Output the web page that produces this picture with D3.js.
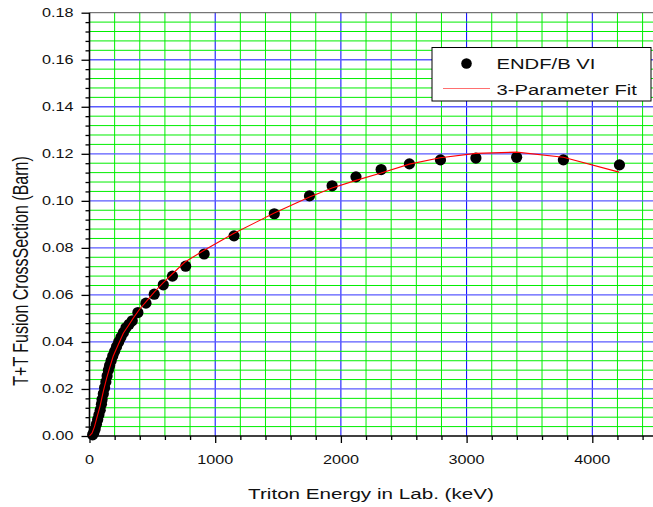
<!DOCTYPE html>
<html><head><meta charset="utf-8">
<script src="https://cdn.jsdelivr.net/npm/d3@7"></script>
<style>body{margin:0;background:#fff;}svg{display:block;}text{font-family:"Liberation Sans",Arial,sans-serif;fill:#111;}</style>
</head><body>
<svg id="c" width="653" height="507"></svg>
<script>
// ENDF/B VI points (keV, barn)
const endfE = [25,35,45,55,65,75,85,95,100,110,120,130,140,150,160,172,185,200,215,232,250,270,290,315,340,385,449,515,587,660,765,912,1150,1470,1750,1930,2120,2320,2545,2792,3074,3398,3770,4216];
const endfS = [0.0005,0.0015,0.003,0.005,0.007,0.009,0.011,0.0135,0.0155,0.018,0.0205,0.023,0.0255,0.028,0.030,0.032,0.034,0.036,0.038,0.040,0.042,0.044,0.046,0.0475,0.049,0.0525,0.0565,0.0603,0.0643,0.068,0.0722,0.0774,0.0851,0.0945,0.1021,0.1064,0.1102,0.1133,0.1157,0.1174,0.1182,0.1185,0.1174,0.1153];
// 3-parameter fit curve
const fitE = [0,20,40,60,83,110,136,160,189,230,269,310,348,400,449,515,587,660,760,912,1150,1470,1750,1930,2120,2320,2545,2790,3074,3398,3770,4213];
const fitS = [0,0.0012,0.004,0.008,0.0125,0.019,0.0245,0.029,0.034,0.039,0.0437,0.047,0.0501,0.054,0.0570,0.0612,0.0652,0.069,0.0740,0.0790,0.0862,0.0948,0.1016,0.1055,0.1087,0.1118,0.1156,0.1183,0.1202,0.1207,0.1185,0.1122];
const xMajor = [0,1000,2000,3000,4000];
const yMajor = [0,0.02,0.04,0.06,0.08,0.10,0.12,0.14,0.16,0.18];
const xTitle = "Triton Energy in Lab. (keV)";
const yTitle = "T+T Fusion CrossSection (Barn)";
const legendLabels = ["ENDF/B VI","3-Parameter Fit"];

const svg = d3.select("#c");
const W = 653;
const x = d3.scaleLinear().domain([0,4600]).range([89.5, 89.5+4.6*125.7]);
const y = d3.scaleLinear().domain([0,0.18]).range([436, 12.7]);
const SX = 1.35;

const grid = svg.append("g");
// vertical grid every 200
d3.range(200, 4601, 200).forEach(v=>{
  const blue = v % 1000 === 0;
  grid.append("line").attr("x1",x(v)).attr("x2",x(v)).attr("y1",y(0.18)).attr("y2",y(0))
    .attr("stroke", blue ? "#0000ff" : "#00ee00").attr("stroke-width",1);
});
// horizontal grid every 0.004
d3.range(1, 45).forEach(i=>{
  const v = i*0.004;
  const blue = i % 5 === 0;
  grid.append("line").attr("x1",x(0)).attr("x2",W).attr("y1",y(v)).attr("y2",y(v))
    .attr("stroke", blue ? "#5a5aff" : "#00ee00").attr("stroke-width", blue?1.3:1);
});
// top border
svg.append("line").attr("x1",x(0)).attr("x2",W).attr("y1",y(0.18)).attr("y2",y(0.18)).attr("stroke","#555").attr("stroke-width",1);

// axes
const xAxisG = svg.append("g").attr("transform",`translate(0,${y(0)})`);
xAxisG.call(d3.axisBottom(x).tickValues(d3.range(0,4601,200)).tickSize(4).tickFormat(""));
xAxisG.call(g=>{g.select(".domain").remove();});
xAxisG.selectAll(".tick line").attr("stroke","#000").attr("stroke-width",1.3)
  .attr("y2", d => d%1000===0 ? 7 : 4);
xAxisG.append("line").attr("x1",x(0)).attr("x2",W).attr("stroke","#000").attr("stroke-width",1.5);
xMajor.forEach(v=>{
  svg.append("text").attr("transform",`translate(${x(v)},463.5) scale(${SX},1)`)
    .attr("text-anchor","middle").attr("font-size",12).text(v);
});

const yAxisG = svg.append("g").attr("transform",`translate(${x(0)},0)`);
yAxisG.call(d3.axisLeft(y).tickValues(d3.range(0,46).map(i=>i*0.004)).tickSize(4).tickFormat(""));
yAxisG.call(g=>g.select(".domain").remove());
yAxisG.selectAll(".tick line").attr("stroke","#000").attr("stroke-width",1.3)
  .attr("x2", (d,i) => i%5===0 ? -8 : -4);
yAxisG.append("line").attr("y1",y(0.18)).attr("y2",y(0)+0.75).attr("stroke","#000").attr("stroke-width",1.6);
yMajor.forEach(v=>{
  svg.append("text").attr("transform",`translate(73.5,${y(v)}) scale(${SX},1)`)
    .attr("text-anchor","end").attr("dy","0.36em").attr("font-size",12).text(v.toFixed(2));
});

// data dots
svg.append("g").selectAll("circle").data(endfE.map((e,i)=>[e,endfS[i]])).join("circle")
  .attr("cx",d=>x(d[0])).attr("cy",d=>y(d[1])).attr("r",5.6).attr("fill","#000");
// fit line
svg.append("path").datum(fitE.map((e,i)=>[e,fitS[i]]))
  .attr("d", d3.line().x(d=>x(d[0])).y(d=>y(d[1])))
  .attr("fill","none").attr("stroke","#ff0000").attr("stroke-width",1.1);

// titles
svg.append("text").attr("transform",`translate(371,498.5) scale(${SX},1)`)
  .attr("text-anchor","middle").attr("font-size",15.3).text(xTitle);
svg.append("text").attr("transform",`translate(28,271) scale(${SX},1) rotate(-90)`)
  .attr("text-anchor","middle").attr("font-size",16).text(yTitle);

// legend
const lg = svg.append("g");
lg.append("rect").attr("x",432).attr("y",47.5).attr("width",219).attr("height",53.5)
  .attr("fill","#fff").attr("stroke","#000").attr("stroke-width",1);
lg.append("circle").attr("cx",466.5).attr("cy",63.5).attr("r",5.3).attr("fill","#000");
lg.append("line").attr("x1",443).attr("x2",490).attr("y1",88.5).attr("y2",88.5).attr("stroke","#ff7070").attr("stroke-width",1.2);
lg.append("text").attr("transform",`translate(496.5,63.5) scale(${SX},1)`).attr("dy","0.36em").attr("font-size",15).text(legendLabels[0]);
lg.append("text").attr("transform",`translate(496.5,89.5) scale(${SX},1)`).attr("dy","0.36em").attr("font-size",15).text(legendLabels[1]);
</script>
</body></html>
